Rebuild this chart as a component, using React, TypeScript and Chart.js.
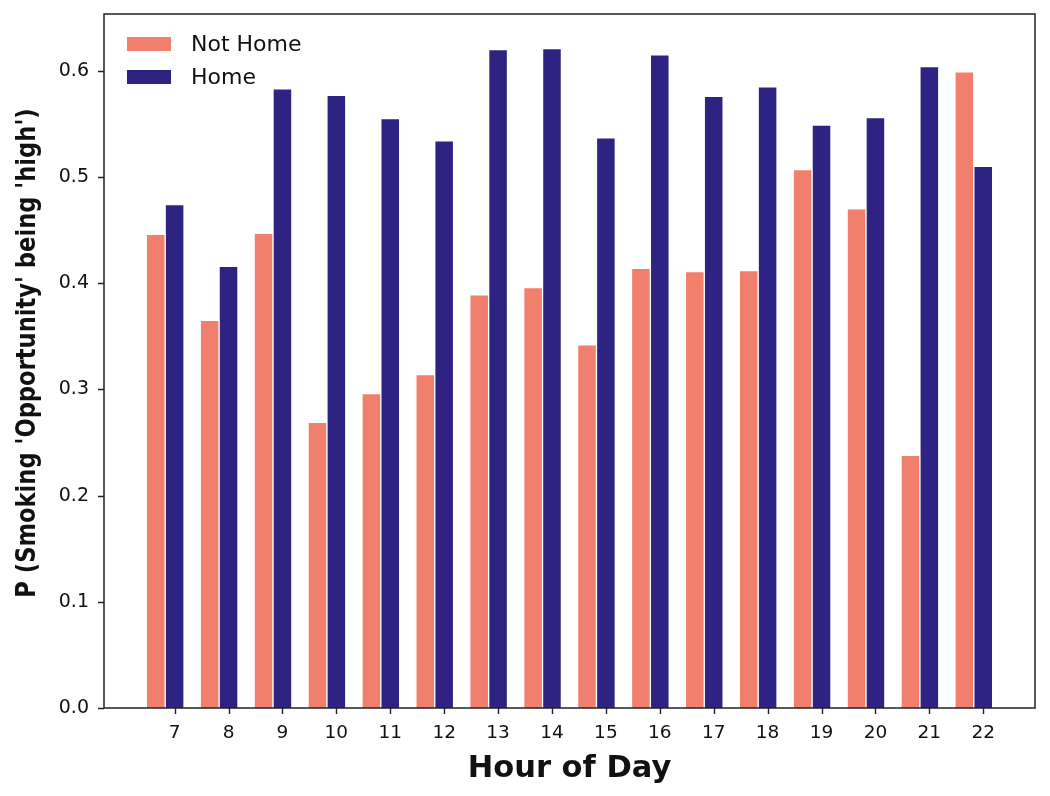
import React, { useEffect, useRef } from "react";
import { Chart, registerables } from "chart.js";

Chart.register(...registerables);

const hours = [7, 8, 9, 10, 11, 12, 13, 14, 15, 16, 17, 18, 19, 20, 21, 22];
const notHome = [0.446, 0.365, 0.447, 0.269, 0.296, 0.314, 0.389, 0.396, 0.342, 0.414, 0.411, 0.412, 0.507, 0.470, 0.238, 0.599];
const home = [0.474, 0.416, 0.583, 0.577, 0.555, 0.534, 0.620, 0.621, 0.537, 0.615, 0.576, 0.585, 0.549, 0.556, 0.604, 0.510];
const yTicks = [0, 0.1, 0.2, 0.3, 0.4, 0.5, 0.6];
const seriesNames = ["Not Home", "Home"];
const xTitle = "Hour of Day";
const yTitle = "P (Smoking 'Opportunity' being 'high')";

const BAR_W = 0.35;
const COLORS = ["#F07F6E", "#2E2382"];
const TEXT = "#111";
const FONT = "'DejaVu Sans', sans-serif";
const TICK_LEN = 6;

const framePlugin = {
  id: "frameAndLegend",
  afterDatasetsDraw(chart: any) {
    const { ctx, chartArea, scales } = chart;
    const { left, top, right, bottom } = chartArea;
    ctx.save();
    ctx.strokeStyle = "#222";
    ctx.lineWidth = 1.5;
    ctx.strokeRect(left, top, right - left, bottom - top);

    // tick marks
    ctx.lineWidth = 1.4;
    ctx.beginPath();
    yTicks.forEach((v) => {
      const py = Math.round(scales.y.getPixelForValue(v)) + 0.5;
      ctx.moveTo(left - TICK_LEN, py);
      ctx.lineTo(left, py);
    });
    hours.forEach((h) => {
      const px = Math.round(scales.x.getPixelForValue(h)) + 0.5;
      ctx.moveTo(px, bottom);
      ctx.lineTo(px, bottom + TICK_LEN);
    });
    ctx.stroke();

    // legend
    ctx.font = `22px ${FONT}`;
    ctx.textBaseline = "middle";
    ctx.textAlign = "left";
    seriesNames.forEach((name, i) => {
      const cy = top + 30 + i * 33;
      ctx.fillStyle = COLORS[i];
      ctx.fillRect(left + 23, cy - 7, 44, 14);
      ctx.fillStyle = TEXT;
      ctx.fillText(name, left + 87, cy + 1);
    });

    // y title (slightly condensed along its length)
    ctx.translate(35, (top + bottom) / 2 - 8);
    ctx.rotate(-Math.PI / 2);
    ctx.scale(0.87, 1);
    ctx.font = `bold 26px ${FONT}`;
    ctx.textAlign = "center";
    ctx.textBaseline = "alphabetic";
    ctx.fillStyle = TEXT;
    ctx.fillText(yTitle, 0, 0);
    ctx.restore();
  },
};

export default function App() {
  const ref = useRef<HTMLCanvasElement | null>(null);

  useEffect(() => {
    document.body.style.margin = "0";
    const canvas = ref.current;
    if (!canvas) return;
    const chart = new Chart(canvas, {
      type: "bar",
      data: {
        datasets: [
          {
            label: seriesNames[0],
            data: hours.map((h, i) => ({ x: h - BAR_W, y: notHome[i] })),
            backgroundColor: COLORS[0],
            borderColor: "#ffffff",
            borderWidth: 1,
            grouped: false,
            categoryPercentage: 1,
            barPercentage: 1,
          },
          {
            label: seriesNames[1],
            data: hours.map((h, i) => ({ x: h, y: home[i] })),
            backgroundColor: COLORS[1],
            borderColor: "#ffffff",
            borderWidth: 1,
            grouped: false,
            categoryPercentage: 1,
            barPercentage: 1,
          },
        ] as any,
      },
      options: {
        animation: false,
        responsive: false,
        devicePixelRatio: 1,
        layout: { padding: { top: 14, right: 15, left: 0, bottom: 0 } },
        plugins: {
          legend: { display: false },
          tooltip: { enabled: false },
        },
        scales: {
          x: {
            type: "linear",
            offset: false,
            min: 5.69,
            max: 22.96,
            afterBuildTicks: (scale: any) => {
              scale.ticks = hours.map((h) => ({ value: h }));
            },
            afterFit: (scale: any) => {
              scale.height = 88;
              scale.paddingLeft = 0;
              scale.paddingRight = 0;
            },
            ticks: {
              callback: (v: any) => String(v),
              font: { family: FONT, size: 18.5 },
              color: TEXT,
              padding: 6,
              maxRotation: 0,
              autoSkip: false,
            },
            grid: { display: false, offset: false },
            border: { display: false },
            title: {
              display: true,
              text: xTitle,
              font: { family: FONT, size: 30.5, weight: "bold" },
              color: TEXT,
              padding: { top: 0, bottom: 9 },
            },
          },
          y: {
            type: "linear",
            min: 0,
            max: 0.6535,
            afterBuildTicks: (scale: any) => {
              scale.ticks = yTicks.map((v) => ({ value: v }));
            },
            afterFit: (scale: any) => {
              scale.width = 104;
              scale.paddingTop = 0;
              scale.paddingBottom = 0;
            },
            ticks: {
              callback: (v: any) => Number(v).toFixed(1),
              font: { family: FONT, size: 19 },
              color: TEXT,
              padding: 7,
            },
            grid: { display: false },
            border: { display: false },
          },
        },
      } as any,
      plugins: [framePlugin],
    });
    return () => chart.destroy();
  }, []);

  return (
    <div style={{ width: 1050, height: 796, background: "#fff" }}>
      <canvas ref={ref} width={1050} height={796} style={{ display: "block" }} />
    </div>
  );
}
